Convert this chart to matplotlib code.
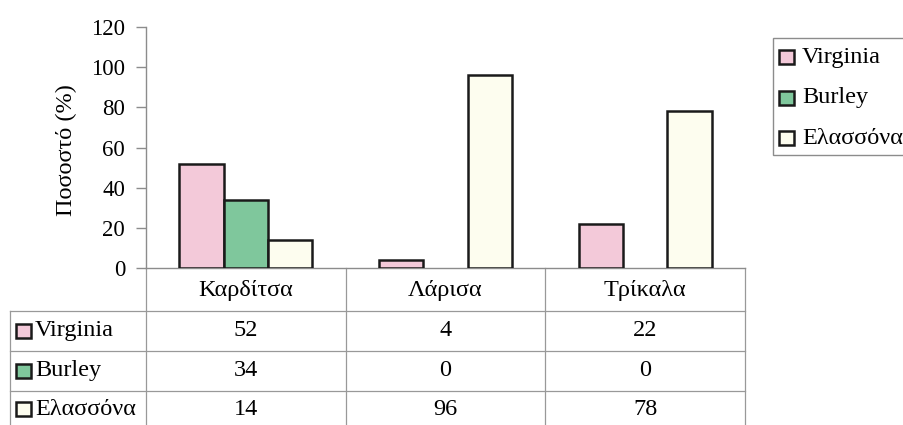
import matplotlib
matplotlib.use("Agg")
import matplotlib.pyplot as plt
from matplotlib.patches import Rectangle
from matplotlib.transforms import blended_transform_factory
import numpy as np

plt.rcParams['font.family'] = ['Liberation Serif', 'DejaVu Serif']

categories = ['Καρδίτσα', 'Λάρισα', 'Τρίκαλα']
series_names = ['Virginia', 'Burley', 'Ελασσόνα']
virginia = [52, 4, 22]
burley = [34, 0, 0]
elassona = [14, 96, 78]
series_values = [virginia, burley, elassona]
colors = ['#f3c9d9', '#7fc79c', '#fdfdef']
yticks = [0, 20, 40, 60, 80, 100, 120]
ylabel = 'Ποσοστό (%)'

W, H = 904, 425
fig = plt.figure(figsize=(W / 100, H / 100), dpi=100)
ax = fig.add_axes([146 / W, 157 / H, 599 / W, 241 / H])
ax.set_xlim(-0.5, 2.5)
ax.set_ylim(0, 120)

FS = 17.5
grey = '#8c8c8c'
x = np.arange(len(categories))
bw = 0.222
for i, (vals, col) in enumerate(zip(series_values, colors)):
    bars = ax.bar(x + (i - 1) * bw, vals, bw, color=col, edgecolor='#1a1a1a',
                  linewidth=1.8, zorder=3)
    for b, v in zip(bars, vals):
        if v == 0:
            b.set_visible(False)

for s in ['top', 'right']:
    ax.spines[s].set_visible(False)
for s in ['left', 'bottom']:
    ax.spines[s].set_color(grey)
    ax.spines[s].set_linewidth(1.0)
ax.set_yticks(yticks)
ax.tick_params(axis='y', length=7, color=grey, labelsize=16.5, pad=8, width=1.0)
ax.set_xticks([])

fig.text(66 / W, 1 - 150 / H, ylabel, rotation=90, ha='center', va='center', fontsize=FS)

# Data table below axes
tr = blended_transform_factory(ax.transData, fig.transFigure)
trf = fig.transFigure
def fy(p):
    return 1 - p / H

row_edges = [268, 310.5, 350.5, 390.5, 432]
lc = '#999999'
lw = 0.9
for xb in [-0.5, 0.5, 1.5, 2.5]:
    ax.plot([xb, xb], [fy(row_edges[0]), fy(H + 5)], transform=tr, color=lc, lw=lw, clip_on=False)
for ry in row_edges[1:4]:
    fig.add_artist(plt.Line2D([10 / W, 745 / W], [fy(ry), fy(ry)], color=lc, lw=lw))
fig.add_artist(plt.Line2D([10 / W, 10 / W], [fy(row_edges[1]), fy(H + 5)], color=lc, lw=lw))

for xi, c in zip(x, categories):
    ax.text(xi, fy((row_edges[0] + row_edges[1]) / 2 + 1), c, transform=tr,
            ha='center', va='center', fontsize=FS)
for r, (name, vals, col) in enumerate(zip(series_names, series_values, colors)):
    yc = (row_edges[r + 1] + row_edges[r + 2]) / 2 - (2 if r == 2 else 0)
    fig.add_artist(Rectangle((16 / W, fy(yc + 7)), 15 / W, 14 / H, transform=trf,
                             facecolor=col, edgecolor='#1a1a1a', lw=1.8))
    fig.text(35 / W, fy(yc), name, ha='left', va='center', fontsize=FS)
    for xi, v in zip(x, vals):
        ax.text(xi, fy(yc), str(v), transform=tr, ha='center', va='center', fontsize=FS)

# legend box
fig.add_artist(Rectangle((773 / W, fy(155)), 140 / W, 117 / H, transform=trf,
                         facecolor='white', edgecolor=grey, lw=1.0))
for r, (name, col) in enumerate(zip(series_names, colors)):
    yc = [57, 98, 138][r]
    fig.add_artist(Rectangle((779 / W, fy(yc + 7)), 15 / W, 14 / H, transform=trf,
                             facecolor=col, edgecolor='#1a1a1a', lw=1.8))
    fig.text(802 / W, fy(yc), name, ha='left', va='center', fontsize=FS)

fig.savefig('out.png', dpi=100)
